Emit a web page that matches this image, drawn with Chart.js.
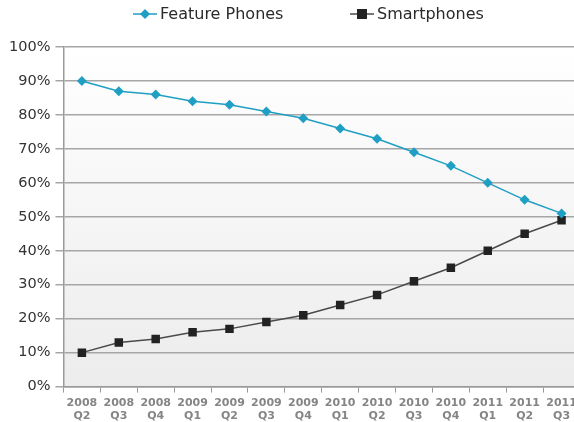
<!DOCTYPE html>
<html>
<head>
<meta charset="utf-8">
<script src="https://cdn.jsdelivr.net/npm/chart.js@4"></script>
<style>
  html, body { margin: 0; padding: 0; background: #ffffff; overflow: hidden; }
  #wrap { position: relative; width: 586px; height: 422px; }
</style>
</head>
<body>
<div id="wrap"><canvas id="chart"></canvas></div>
<script>
// Quarterly share of handset subscribers
const quarters = [
  ['2008', 'Q2'], ['2008', 'Q3'], ['2008', 'Q4'],
  ['2009', 'Q1'], ['2009', 'Q2'], ['2009', 'Q3'], ['2009', 'Q4'],
  ['2010', 'Q1'], ['2010', 'Q2'], ['2010', 'Q3'], ['2010', 'Q4'],
  ['2011', 'Q1'], ['2011', 'Q2'], ['2011', 'Q3']
];
const featurePhones = [90, 87, 86, 84, 83, 81, 79, 76, 73, 69, 65, 60, 55, 51];
const smartphones   = [10, 13, 14, 16, 17, 19, 21, 24, 27, 31, 35, 40, 45, 49];

const featureColor = '#1f9fc3';
const smartColor = '#222222';
const smartLine = '#4a4a4a';
const FONT = '"DejaVu Sans", sans-serif';

// Plot-area background: white fading to light grey
const plotBackground = {
  id: 'plotBackground',
  beforeDraw(chart) {
    const { ctx, chartArea: a } = chart;
    const grad = ctx.createLinearGradient(0, a.top, 0, a.bottom);
    grad.addColorStop(0, '#ffffff');
    grad.addColorStop(1, '#ececec');
    ctx.save();
    ctx.fillStyle = grad;
    ctx.fillRect(a.left, a.top, a.right - a.left, a.bottom - a.top);
    ctx.restore();
  }
};

// Legend row above the plot: short line + marker, then the series name
const lineLegend = {
  id: 'lineLegend',
  afterDraw(chart) {
    const { ctx } = chart;
    const y = 14;
    const items = [
      { text: chart.data.datasets[0].label, line: featureColor, fill: featureColor, shape: 'diamond', x: 133 },
      { text: chart.data.datasets[1].label, line: smartLine, fill: smartColor, shape: 'square', x: 350 }
    ];
    ctx.save();
    ctx.font = '16px ' + FONT;
    ctx.textBaseline = 'middle';
    items.forEach(it => {
      ctx.strokeStyle = it.line; ctx.lineWidth = 1.5;
      ctx.beginPath(); ctx.moveTo(it.x, y); ctx.lineTo(it.x + 24, y); ctx.stroke();
      ctx.fillStyle = it.fill;
      const cx = it.x + 12;
      if (it.shape === 'diamond') {
        ctx.beginPath(); ctx.moveTo(cx, y - 5); ctx.lineTo(cx + 5, y); ctx.lineTo(cx, y + 5); ctx.lineTo(cx - 5, y); ctx.closePath(); ctx.fill();
      } else {
        ctx.fillRect(cx - 5, y - 5, 10, 10);
      }
      ctx.fillStyle = '#2a2a2a';
      ctx.fillText(it.text, it.x + 27, y + 1);
    });
    ctx.restore();
  }
};

new Chart(document.getElementById('chart'), {
  type: 'line',
  data: {
    labels: quarters,
    datasets: [
      {
        label: 'Feature Phones',
        data: featurePhones,
        borderColor: featureColor,
        backgroundColor: featureColor,
        borderWidth: 1.5,
        pointStyle: 'rectRot',
        pointRadius: 5,
        pointBorderWidth: 0,
        tension: 0
      },
      {
        label: 'Smartphones',
        data: smartphones,
        borderColor: smartLine,
        backgroundColor: smartColor,
        borderWidth: 1.5,
        pointStyle: 'rect',
        pointRadius: 6,
        pointBorderWidth: 0,
        tension: 0
      }
    ]
  },
  options: {
    responsive: true,
    maintainAspectRatio: false,
    animation: false,
    layout: { padding: { left: 4, right: 2, top: 47, bottom: -5 } },
    plugins: {
      tooltip: { enabled: false },
      legend: { display: false }
    },
    scales: {
      x: {
        offset: true,
        grid: {
          offset: true,
          drawOnChartArea: false,
          drawTicks: true,
          tickLength: 6,
          color: '#9a9a9a'
        },
        border: { color: '#9a9a9a', width: 1.5 },
        ticks: {
          color: '#858585',
          font: { family: FONT, size: 11, weight: 'bold', lineHeight: 1.2 },
          padding: 4,
          maxRotation: 0,
          autoSkip: false
        }
      },
      y: {
        min: 0,
        max: 100,
        ticks: {
          stepSize: 10,
          color: '#333333',
          font: { family: FONT, size: 14.5 },
          padding: 5,
          callback: v => v + '%'
        },
        grid: {
          color: '#a6a6a6',
          lineWidth: 1.5,
          tickLength: 8
        },
        border: { color: '#9a9a9a', width: 1.5 }
      }
    }
  },
  plugins: [plotBackground, lineLegend]
});
</script>
</body>
</html>
